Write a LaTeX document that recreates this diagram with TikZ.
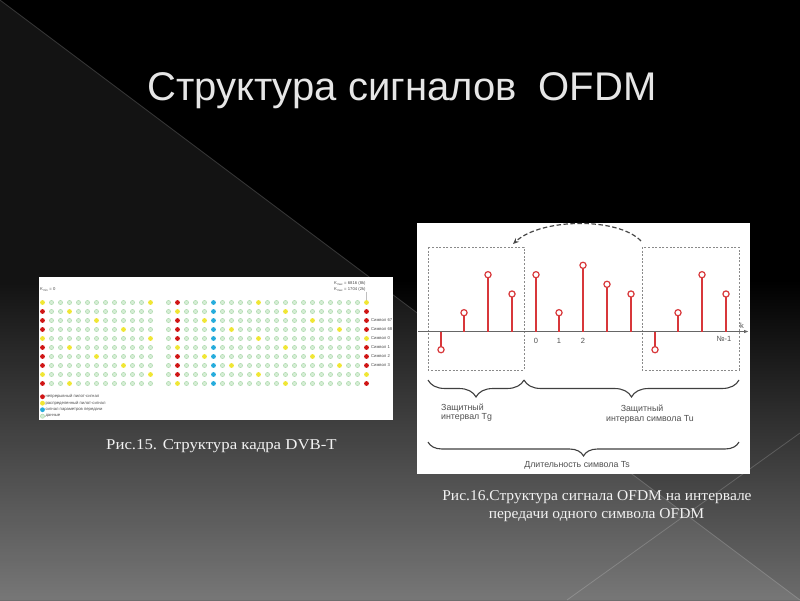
\documentclass[tikz,border=0pt]{standalone}
\usepackage{fontspec}
\setmainfont{Liberation Serif}
\newfontfamily\sansf{Liberation Sans}
\usetikzlibrary{decorations.pathreplacing,arrows.meta}
\definecolor{bgbot}{HTML}{6C6C6C}
\definecolor{titlec}{HTML}{E6E6E6}
\definecolor{capc}{HTML}{F2F2F2}
\definecolor{dotR}{HTML}{D01515}
\definecolor{dotY}{HTML}{F0E634}
\definecolor{dotC}{HTML}{26ACDC}
\definecolor{dotG}{HTML}{D6EED6}
\definecolor{dotGd}{HTML}{B4DCB4}
\definecolor{stemc}{HTML}{D8373A}
\definecolor{labc}{HTML}{505050}
\definecolor{frc}{HTML}{8A8A8A}
\tikzset{
  stemline/.style={draw=stemc, line width=1.6},
  stemhead/.style={draw=stemc, fill=white, line width=1.2},
  guardbox/.style={draw=frc, dash pattern=on 2pt off 1.6pt, line width=0.8},
  bracesty/.style={decorate, decoration={brace, mirror, amplitude=#1}, draw=black!75, line width=1.1},
  lab/.style={font=\sansf\fontsize{8.8}{10}\selectfont, text=labc, inner sep=0},
  axlab/.style={font=\sansf\fontsize{7.5}{9}\selectfont, text=labc, inner sep=0},
  tinylab/.style={font=\sansf\fontsize{4.2}{5}\selectfont, text=black!70, inner sep=0},
  caption/.style={font=\fontsize{15}{18}\selectfont, text=capc, inner sep=0},
  gdot/.style={draw=dotGd, fill=dotG, line width=0.6},
}
\begin{document}
\begin{tikzpicture}[x=1pt,y=-1pt]
\useasboundingbox (0,0) rectangle (800,600);
% background
\fill[black] (0,0) rectangle (800,600);
\shade[top color=black, bottom color=bgbot] (0,280) rectangle (800,600);
\fill[white, opacity=0.075] (0,0) -- (800,600) -- (0,600) -- cycle;
\draw[white, opacity=0.18, line width=0.8] (0,0) -- (800,600);
\draw[white, opacity=0.18, line width=0.8] (800,433) -- (567,600);
% title
\node[font=\sansf\fontsize{40}{48}\selectfont, text=titlec, anchor=base west, inner sep=0] (title) at (147,100) {Структура сигналов\ \ OFDM};
% ---------------- left figure: DVB-T frame
\fill[white] (39,277) rectangle (393,420);
\foreach \r in {0,...,9}{
  \foreach \c in {0,...,36}{
    \ifnum\c=13\relax\else
      \pgfmathtruncatemacro\sp{(mod(\c-3*mod(\r,4),12)==0)?1:0}
      \pgfmathtruncatemacro\cp{((\c==0)||(\c==15)||(\c==36))?1:0}
      \pgfmathsetmacro\xx{42.5+9*\c}
      \pgfmathsetmacro\yy{302.5+9*\r}
      \ifnum\sp=1\relax
        \fill[dotY] (\xx,\yy) circle (2.4);
      \else\ifnum\cp=1\relax
        \fill[dotR] (\xx,\yy) circle (2.4);
      \else\ifnum\c=19\relax
        \fill[dotC] (\xx,\yy) circle (2.4);
      \else
        \draw[gdot] (\xx,\yy) circle (2.05);
      \fi\fi\fi
    \fi
  }
}
\node[tinylab, anchor=base west] (kmin) at (40,290) {K\textsubscript{min} = 0};
\node[tinylab, anchor=base west] (kmax1) at (334,284) {K\textsubscript{max} = 6816 (8k)};
\node[tinylab, anchor=base west] (kmax2) at (334,290.5) {K\textsubscript{max} = 1704 (2k)};
\draw[black!25, line width=0.3] (366.5,291.5) -- (366.5,300);
\foreach \t [count=\i from 2] in {Символ 67, Символ 68, Символ 0, Символ 1, Символ 2, Символ 3}{
  \node[tinylab, anchor=west] (sym\i) at (371,302.5+9*\i) {\t};
}
\foreach \cl/\tx [count=\i from 0] in {dotR/непрерывный пилот-сигнал, dotY/распределенный пилот-сигнал, dotC/сигнал параметров передачи, dotG/данные}{
  \ifnum\i=3\relax
    \draw[gdot] (42.5,396.7+6.5*\i) circle (2.05);
  \else
    \fill[\cl] (42.5,396.7+6.5*\i) circle (2.4);
  \fi
  \node[tinylab, anchor=west] (leg\i) at (45.3,396.7+6.5*\i) {\tx};
}
\node[caption, anchor=base west] (cap15) at (106,449) {\scalebox{1.12}[1]{Рис.15. Структура кадра DVB-T}};
% ---------------- right figure: OFDM symbol
\fill[white] (417,223) rectangle (750,474);
\coordinate (axL) at (418,331.5);
\coordinate (axR) at (749,331.5);
\draw[guardbox] (428,247) rectangle (524,370);
\draw[guardbox] (642,247) rectangle (739,370);
\draw[draw=black!60, line width=1, -{Latex[length=5,width=3.5]}] (axL) -- (axR);
\foreach \xx/\h in {441/349.7,464/312.7,488/274.7,512/294,536/274.7,559/312.7,583/265.3,607/284.3,631/294,655/349.7,678/312.7,702/274.7,726/294}{
  \draw[stemline] (\xx,331.5) -- (\xx,\h);
  \draw[stemhead] (\xx,\h) circle (3.1);
}
\coordinate (cpS) at (641,241);
\coordinate (cpE) at (513,244);
\draw[draw=black!72, dash pattern=on 4.5pt off 2.5pt, line width=1.2, -{Stealth[length=6,width=5]}] (cpS) .. controls (618,217) and (541,218) .. (cpE);
\node[axlab, anchor=base] (k0) at (536,343.7) {0};
\node[axlab, anchor=base] (k1) at (559,343.7) {1};
\node[axlab, anchor=base] (k2) at (583,343.7) {2};
\node[axlab, anchor=base] (kn) at (724,341.3) {№-1};
\node[axlab, anchor=base] (kk) at (742,328) {k};
\draw[bracesty=17] (428,380) -- (524,380);
\draw[bracesty=17] (524,380) -- (739,380);
\draw[bracesty=14] (428,442) -- (739,442);
\node[lab, anchor=base west] (tg1) at (441,410) {Защитный};
\node[lab, anchor=base west] (tg2) at (441,419.5) {интервал Tg};
\node[lab, anchor=base] (tu1) at (642,411.5) {Защитный};
\node[lab, anchor=base] (tu2) at (650,421.5) {интервал символа Tu};
\node[lab, anchor=base] (ts) at (577,467.5) {Длительность символа Ts};
\node[caption, anchor=base] (cap16a) at (597,500) {\scalebox{1.033}[1]{Рис.16.Структура сигнала OFDM на интервале}};
\node[caption, anchor=base] (cap16b) at (596.5,518) {\scalebox{1.033}[1]{передачи одного символа OFDM}};
\end{tikzpicture}
\end{document}
